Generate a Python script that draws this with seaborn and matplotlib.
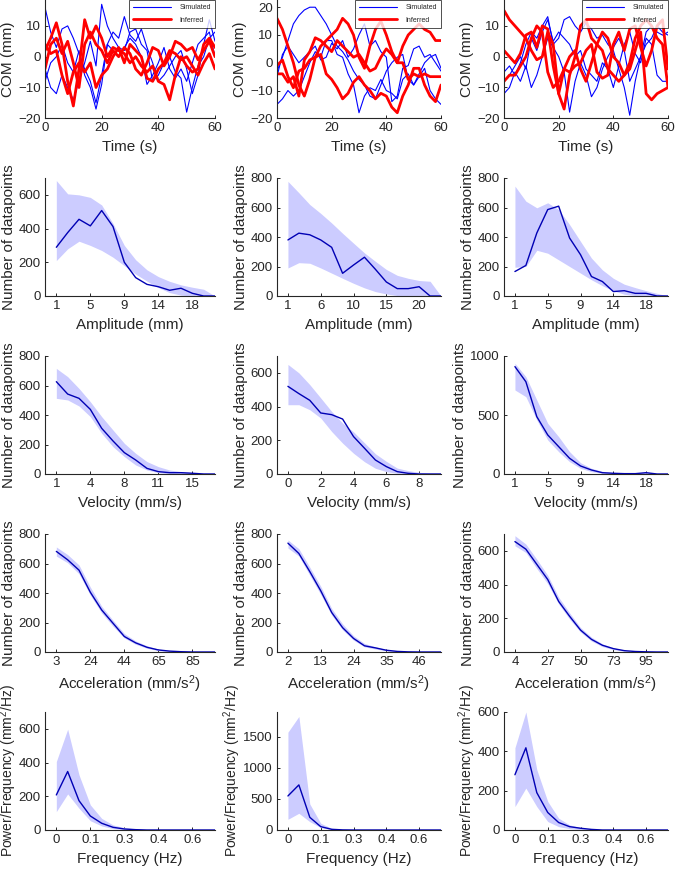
import numpy as np
import matplotlib
matplotlib.use('Agg')
import matplotlib.pyplot as plt
import seaborn as sns

# ---- top row: COM traces (sampled every 2 s) ----
t = np.arange(0, 61, 2)

sim_a = [[16, 8, 3, 9, 10, 6, 1, -4, -8, -15, -6, 4, 8, 6, 13, 7, 5, 9, 3, -2, -8, -6, -3, 0, 2, -4, -12, -6, 4, 12, 5],
         [-4, -10, -12, -6, -10, -14, -8, -2, 5, -3, 17, 10, 6, 3, 2, 8, 9, 4, 2, -8, -6, -2, 0, -5, -7, -18, -10, -3, 0, 6, 8],
         [-8, -2, 0, 4, -2, -5, 2, -6, -10, -17, -9, 4, 2, 0, 3, 6, 4, 0, -9, -6, -2, 3, -4, -7, -4, -8, -2, 4, 6, 8, 0]]
inf_a = [[2, 6, 11, 4, -8, -16, -4, 12, 6, 10, 6, 0, 3, 2, 1, -2, 0, -3, -5, -3, -8, -9, -14, -6, 0, -3, -5, -4, 4, 6, 3],
         [-4, 4, 6, 1, 5, -2, -10, 4, 8, 4, 2, -2, 2, 0, 3, 1, -4, -6, -2, 3, 2, -3, 0, 5, 4, 2, 3, -1, 2, 5, 0],
         [4, 1, 2, -6, -12, -5, -2, -5, -2, -10, -6, -4, 0, 3, -2, 4, 2, 0, -7, -8, -4, -2, 2, 1, -1, 0, -3, -6, -2, 1, -4]]

sim_b = [[-3, 2, 8, 14, 17, 19, 20, 20, 17, 14, 10, 6, 4, 1, -3, -6, -8, -12, -13, -8, -3, 0, 2, 3, -6, -8, -5, -2, -10, -13, -15],
         [-15, -13, -10, -12, -10, -5, 0, 4, 2, 8, 8, 3, 2, -4, -8, -18, -12, -9, -10, -6, -10, -11, -13, -6, -4, -8, -4, 0, 2, 3, -2],
         [-5, 3, 6, 3, 0, 2, 4, 6, 1, 2, 7, 5, 8, 2, 5, 10, 14, 6, 8, 4, 2, -14, -12, -2, -1, 5, 6, 2, 3, 0, -3]]
inf_b = [[16, 12, 6, 0, -8, -12, -6, 2, 6, 8, 10, 12, 16, 14, 10, 2, -2, 6, 12, 15, 10, 4, 0, 0, -6, -4, -5, -4, -5, -5, -5],
         [-4, -4, -7, -5, -12, 1, 4, 9, 8, 6, 4, 8, 6, 4, 2, 3, 0, -3, -2, 2, 5, 3, 0, 6, 10, 12, 14, 12, 11, 8, 8],
         [-1, 1, -5, -9, -3, -2, 1, 2, 3, -4, -6, -9, -13, -11, -7, -5, -8, -10, -13, -11, -12, -16, -18, -12, -8, -2, -2, -8, -12, -14, -8]]

sim_c = [[-5, -3, -6, -2, 4, 8, 6, 10, 13, 4, 6, 12, 13, 10, 8, 11, 9, 6, 7, 4, 2, -4, -10, -19, -8, 0, 8, 10, 8, 7, 8],
         [-12, -10, -5, -8, -3, -10, -6, 0, 6, 3, 0, -5, -18, -8, -2, -6, -13, -10, -4, 0, 3, 6, 2, -8, -4, 0, 4, 6, 10, 8, 7],
         [-8, -6, -3, 0, -4, 6, 2, 8, 12, 5, 8, 6, 4, 0, 2, -4, -6, -8, -2, -4, -10, -3, 4, 8, 1, -2, 6, 4, -6, -8, -8]]
inf_c = [[15, 12, 10, 8, 6, 2, -1, 0, 8, 4, -12, -17, -6, 0, 10, 12, 6, 4, 2, -4, -6, -8, -6, -2, 6, 10, 12, 10, 6, 4, -10],
         [-8, -6, -6, -3, 0, 6, 10, 8, -5, -10, -8, -4, 0, 2, -4, -8, -2, 4, 8, 6, 0, -2, -6, -4, 2, 8, -12, -14, -12, -11, -10],
         [2, 0, -2, 1, 7, 8, 3, 10, 9, -3, -12, -4, -5, -3, -2, 2, 4, -5, -7, -6, 4, 8, 2, 9, 10, 3, -3, 2, 10, 12, -4]]

# ---- histogram rows: 15 bins each ----
bins = np.arange(1, 16)

amp_mean = [[289, 376, 455, 416, 507, 412, 200, 109, 69, 55, 34, 46, 16, 0, 0],
            [380, 426, 415, 380, 330, 154, 210, 263, 181, 95, 50, 50, 63, 0, 0],
            [166, 207, 427, 586, 609, 393, 280, 132, 98, 30, 36, 18, 18, 0, 0]]
amp_hi = [[685, 606, 600, 585, 540, 430, 300, 215, 155, 115, 87, 66, 52, 40, 0],
          [777, 700, 620, 560, 495, 425, 358, 292, 235, 180, 140, 120, 105, 100, 0],
          [745, 643, 598, 632, 586, 484, 370, 257, 177, 120, 80, 57, 36, 18, 0]]
amp_lo = [[210, 280, 325, 300, 270, 230, 180, 130, 88, 50, 20, 5, 0, 0, 0],
          [190, 226, 222, 190, 155, 120, 86, 55, 30, 14, 3, 0, 0, 0, 0],
          [195, 200, 310, 290, 245, 200, 155, 110, 70, 35, 12, 3, 0, 0, 0]]

vel_mean = [[626, 542, 513, 438, 310, 224, 145, 95, 38, 16, 9, 9, 5, 0, 0],
            [520, 477, 437, 362, 352, 326, 222, 153, 83, 44, 14, 4, 0, 0, 0],
            [910, 782, 486, 331, 232, 133, 68, 34, 11, 6, 3, 3, 11, 0, 0]]
vel_hi = [[716, 660, 580, 490, 389, 298, 208, 140, 84, 50, 27, 16, 9, 5, 0],
          [650, 600, 530, 451, 371, 302, 250, 185, 120, 75, 35, 20, 10, 4, 0],
          [938, 825, 627, 429, 316, 189, 96, 48, 23, 11, 6, 6, 17, 3, 0]]
vel_lo = [[513, 502, 461, 389, 276, 185, 118, 61, 27, 9, 0, 0, 0, 0, 0],
          [411, 411, 381, 332, 252, 183, 123, 73, 34, 14, 4, 0, 0, 0, 0],
          [712, 655, 458, 288, 189, 104, 48, 20, 6, 2, 0, 0, 6, 0, 0]]

acc_mean = [[682, 625, 555, 405, 285, 195, 105, 62, 32, 14, 6, 2, 0, 0, 0],
            [738, 668, 545, 415, 268, 165, 92, 42, 28, 12, 4, 1, 0, 0, 0],
            [655, 610, 520, 430, 300, 212, 130, 75, 40, 20, 8, 3, 1, 0, 0]]
acc_hi = [[712, 660, 590, 440, 310, 215, 125, 75, 42, 20, 9, 4, 1, 0, 0],
          [760, 700, 575, 445, 295, 190, 110, 58, 35, 16, 7, 2, 0, 0, 0],
          [690, 640, 550, 455, 325, 232, 145, 88, 48, 25, 11, 4, 1, 0, 0]]
acc_lo = [[650, 605, 530, 385, 265, 175, 95, 52, 25, 9, 3, 0, 0, 0, 0],
          [705, 650, 520, 390, 250, 150, 80, 35, 20, 8, 2, 0, 0, 0, 0],
          [630, 590, 495, 405, 285, 195, 118, 65, 32, 14, 5, 1, 0, 0, 0]]

pow_mean = [[208, 347, 174, 83, 40, 16, 6, 2, 0, 0, 0, 0, 0, 0, 0],
            [548, 726, 204, 54, 11, 2, 0, 0, 0, 0, 0, 0, 0, 0, 0],
            [281, 418, 190, 89, 38, 17, 9, 3, 0, 0, 0, 0, 0, 0, 0]]
pow_hi = [[406, 598, 327, 149, 69, 30, 14, 6, 2, 0, 0, 0, 0, 0, 0],
          [1575, 1828, 419, 108, 27, 5, 1, 0, 0, 0, 0, 0, 0, 0, 0],
          [418, 600, 307, 145, 60, 26, 12, 5, 2, 0, 0, 0, 0, 0, 0]]
pow_lo = [[109, 214, 129, 55, 24, 8, 2, 0, 0, 0, 0, 0, 0, 0, 0],
          [172, 269, 134, 38, 5, 0, 0, 0, 0, 0, 0, 0, 0, 0, 0],
          [119, 213, 119, 43, 17, 7, 2, 0, 0, 0, 0, 0, 0, 0, 0]]

amp_ticks = [['1', '5', '9', '14', '18'], ['1', '6', '10', '15', '20'], ['1', '5', '9', '14', '18']]
vel_ticks = [['1', '4', '8', '11', '15'], ['0', '2', '4', '6', '8'], ['1', '5', '9', '14', '18']]
acc_ticks = [['3', '24', '44', '65', '85'], ['2', '13', '24', '35', '46'], ['4', '27', '50', '73', '95']]
pow_ticks = [['0', '0.1', '0.3', '0.4', '0.6']] * 3

sns.set_style('ticks')
plt.rcParams['font.family'] = ['Liberation Sans', 'DejaVu Sans']
plt.rcParams['mathtext.default'] = 'regular'
plt.rcParams['xtick.direction'] = 'in'
plt.rcParams['ytick.direction'] = 'in'

axcol = '#262626'
W, H = 675, 869
fig = plt.figure(figsize=(6.75, 8.69), dpi=100)

cols = [(45, 170), (277, 164), (504, 164)]


def make_ax(c, top, bottom):
    x0, w = cols[c]
    return fig.add_axes([x0 / W, (H - bottom) / H, w / W, (bottom - top) / H])


def style(ax):
    sns.despine(ax=ax)
    for s in ['left', 'bottom']:
        ax.spines[s].set_color(axcol)
        ax.spines[s].set_linewidth(0.8)
    ax.tick_params(colors=axcol, labelsize=9.5, length=2.5, width=0.7, pad=3)


# top row
top_sets = [(sim_a, inf_a, 18.4, [-20, -10, 0, 10]),
            (sim_b, inf_b, 22.6, [-20, -10, 0, 10, 20]),
            (sim_c, inf_c, 18.4, [-20, -10, 0, 10])]
for c, (sims, infs, ytop, yt) in enumerate(top_sets):
    ax = make_ax(c, 0, 118.3)
    for k, s in enumerate(sims):
        sns.lineplot(x=t, y=s, ax=ax, color='#0000ff', linewidth=0.8,
                     label='Simulated' if k == 0 else None)
    for k, r in enumerate(infs):
        sns.lineplot(x=t, y=r, ax=ax, color='#ff0000', linewidth=2.0,
                     label='Inferred' if k == 0 else None)
    ax.set_xlim(0, 60)
    ax.set_ylim(-20, ytop)
    ax.set_xticks([0, 20, 40, 60])
    ax.set_yticks(yt)
    ax.set_xlabel('Time (s)', fontsize=11, color=axcol)
    ax.set_ylabel('COM (mm)', fontsize=11, color=axcol, labelpad=2)
    style(ax)
    leg = ax.legend(loc='upper right', fontsize=5, frameon=True, fancybox=False,
                    borderaxespad=0, handlelength=5.5, labelspacing=0.8,
                    borderpad=0.6, handletextpad=1.2)
    leg.get_frame().set_edgecolor('black')
    leg.get_frame().set_linewidth(0.6)

rows = [(amp_mean, amp_hi, amp_lo, amp_ticks, 'Amplitude (mm)', 'Number of datapoints',
         [700, 800, 800], [[0, 200, 400, 600], [0, 200, 400, 600, 800], [0, 200, 400, 600, 800]]),
        (vel_mean, vel_hi, vel_lo, vel_ticks, 'Velocity (mm/s)', 'Number of datapoints',
         [800, 700, 1000], [[0, 200, 400, 600, 800], [0, 200, 400, 600], [0, 500, 1000]]),
        (acc_mean, acc_hi, acc_lo, acc_ticks, 'Acceleration (mm/s$^2$)', 'Number of datapoints',
         [800, 800, 700], [[0, 200, 400, 600, 800], [0, 200, 400, 600, 800], [0, 200, 400, 600]]),
        (pow_mean, pow_hi, pow_lo, pow_ticks, 'Frequency (Hz)', 'Power/Frequency (mm$^2$/Hz)',
         [700, 1900, 600], [[0, 200, 400, 600], [0, 500, 1000, 1500], [0, 200, 400, 600]])]

for r, (means, his, los, ticks, xl, yl, ytops, yts) in enumerate(rows):
    bottom = 296 + 178 * r
    for c in range(3):
        ax = make_ax(c, bottom - 118, bottom)
        ax.fill_between(bins, los[c], his[c], color='#ccccff', linewidth=0)
        sns.lineplot(x=bins, y=means[c], ax=ax, color='#0000b4', linewidth=1.0)
        ax.set_xlim(0, 15)
        ax.set_ylim(0, ytops[c])
        ax.set_xticks([1, 4, 7, 10, 13])
        ax.set_xticklabels(ticks[c])
        ax.set_yticks(yts[c])
        ax.set_xlabel(xl, fontsize=11, color=axcol)
        ax.set_ylabel(yl, fontsize=10 if r == 3 else 11, color=axcol,
                      labelpad=0 if r == 3 else 2)
        style(ax)

fig.savefig('out.png', dpi=100)
